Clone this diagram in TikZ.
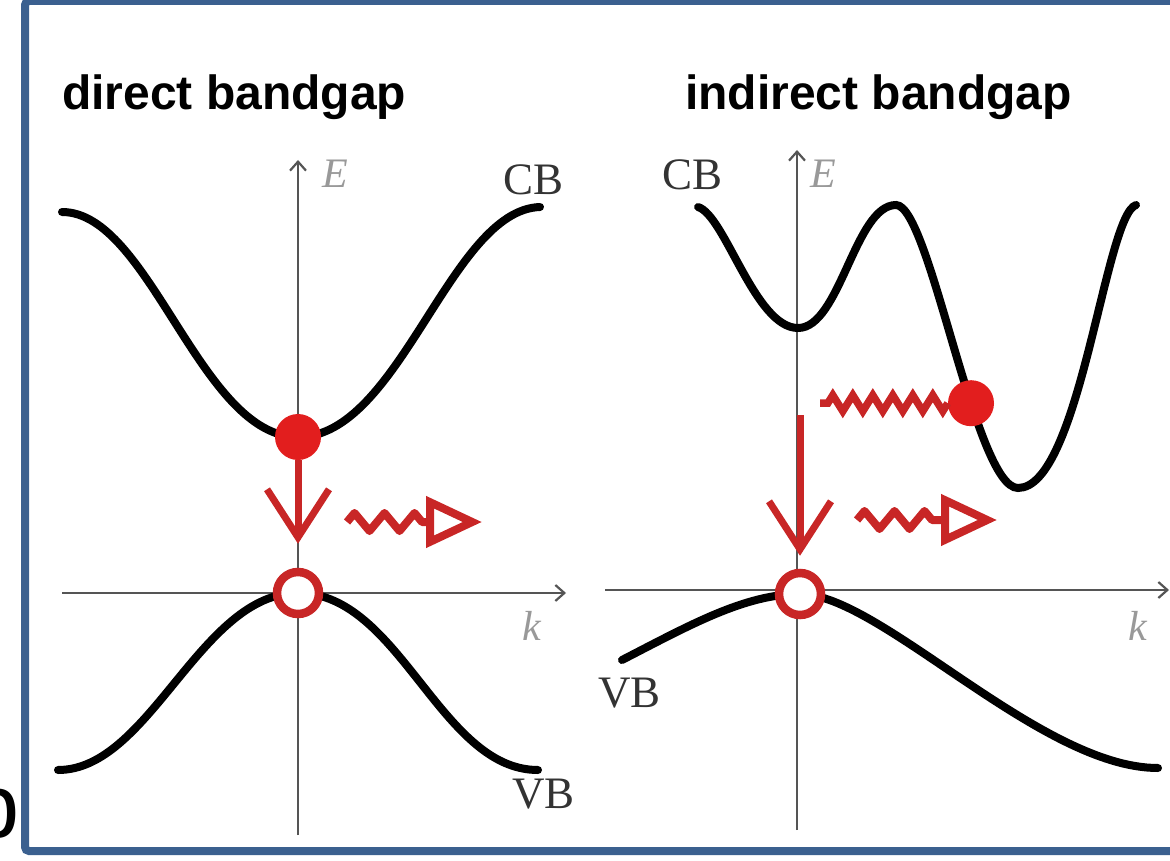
\documentclass[tikz,border=0pt]{standalone}
\usepackage{fontspec}
\setmainfont{Liberation Serif}
\newfontfamily\titlefont{Liberation Sans}
\usepackage{tikz}
\usetikzlibrary{arrows.meta, decorations.pathmorphing, positioning}
\definecolor{framblue}{RGB}{59,96,143}
\definecolor{elred}{RGB}{200,38,38}
\definecolor{dotred}{RGB}{226,30,30}
\definecolor{axisgray}{RGB}{85,85,85}

\begin{document}
\begin{tikzpicture}[x=1pt, y=-1pt]
    \tikzstyle{axis} = [draw=axisgray, line width=2.2pt, -{Straight Barb[length=9pt, width=16pt]}]
    \tikzstyle{band} = [draw=black, line width=8pt, line cap=round]
    \tikzstyle{electron} = [circle, fill=dotred, minimum size=46pt, inner sep=0pt]
    \tikzstyle{hole} = [circle, draw=elred, fill=white, line width=8.5pt, minimum size=42pt, inner sep=0pt]
    \tikzstyle{transition} = [draw=elred, line width=7pt, -{Straight Barb[length=48pt, width=62pt]}]
    \tikzstyle{photon} = [draw=elred, line width=8pt, line join=round, decorate, decoration={zigzag, amplitude=9pt, segment length=30pt, post length=56pt}, -{Triangle[open, length=56pt, width=50pt, line width=8pt]}]
    \tikzstyle{phonon} = [draw=elred, line width=7.5pt, decorate, decoration={zigzag, amplitude=8pt, segment length=20pt}]
    \tikzstyle{title} = [font=\titlefont\bfseries\fontsize{48}{56}\selectfont, anchor=base west, inner sep=0pt]
    \tikzstyle{bandlabel} = [font=\fontsize{45}{50}\selectfont, text=black!80, anchor=base west, inner sep=0pt]
    \tikzstyle{axislabel} = [font=\itshape\fontsize{42}{48}\selectfont, text=black!40, anchor=base west, inner sep=0pt]

    \useasboundingbox (0,0) rectangle (1170,861);
    \draw[framblue, line width=8pt, rounded corners=4pt] (25,1) rectangle (1185,851);

    \node[title] (tdir) at (62,110) {direct bandgap};
    \node[title] (tind) at (685,110) {indirect bandgap};
    \node[font=\titlefont\fontsize{90}{90}\selectfont, anchor=base west, inner sep=0pt] (plabel) at (-31,837) {b};

    \coordinate (kl0) at (62,593);
    \coordinate (kl1) at (566,593);
    \coordinate (el0) at (298,835);
    \coordinate (el1) at (298,160);
    \draw[axis] (kl0) -- (kl1);
    \draw[axis] (el0) -- (el1);
    \node[axislabel] (El) at (322,188) {E};
    \node[axislabel] (kl) at (522,640) {k};

    \coordinate (cbmin) at (298,437);
    \coordinate (vbmax) at (298,593);
    \draw[band] (62,212) .. controls (150,212) and (200,437) .. (cbmin) .. controls (400,437) and (450,210) .. (540,207);
    \draw[band] (58,770) .. controls (150,770) and (200,593) .. (vbmax) .. controls (400,593) and (440,770) .. (538,770);
    \node[bandlabel] (cbl) at (503,195) {CB};
    \node[bandlabel] (vbl) at (512,808) {VB};

    \node[electron] (e1) at (cbmin) {};
    \node[hole] (h1) at (vbmax) {};
    \draw[transition, shorten >=24pt] (e1) -- (h1);
    \coordinate (ph1a) at (347,522);
    \coordinate (ph1b) at (482,522);
    \draw[photon] (ph1a) -- (ph1b);

    \coordinate (kr0) at (605,590);
    \coordinate (kr1) at (1169,590);
    \coordinate (er0) at (797,830);
    \coordinate (er1) at (797,150);
    \draw[axis] (kr0) -- (kr1);
    \draw[axis] (er0) -- (er1);
    \node[axislabel] (Er) at (810,188) {E};
    \node[axislabel] (kr) at (1128,640) {k};

    \draw[band] (698,207) .. controls (725,215) and (755,328) .. (798,328) .. controls (840,328) and (855,205) .. (896,205) .. controls (930,205) and (975,488) .. coordinate[pos=0.637] (cbx) (1018,488) .. controls (1080,488) and (1105,215) .. (1136,205);
    \draw[band] (622,660) .. controls (690,625) and (745,594) .. (800,594) .. controls (880,594) and (1040,768) .. (1158,768);
    \node[bandlabel] (cbr) at (662,190) {CB};
    \node[bandlabel] (vbr) at (598,707) {VB};

    \node[electron] (e2) at (cbx) {};
    \node[hole] (h2) at (800,594) {};
    \coordinate (z2) at (820,0 |- e2);
    \draw[phonon] (e2) -- (z2);
    \coordinate (t2) at (800,415);
    \draw[transition, shorten >=13pt] (t2) -- (h2);
    \coordinate (ph2a) at (857,520);
    \coordinate (ph2b) at (997,520);
    \draw[photon] (ph2a) -- (ph2b);
\end{tikzpicture}
\end{document}
